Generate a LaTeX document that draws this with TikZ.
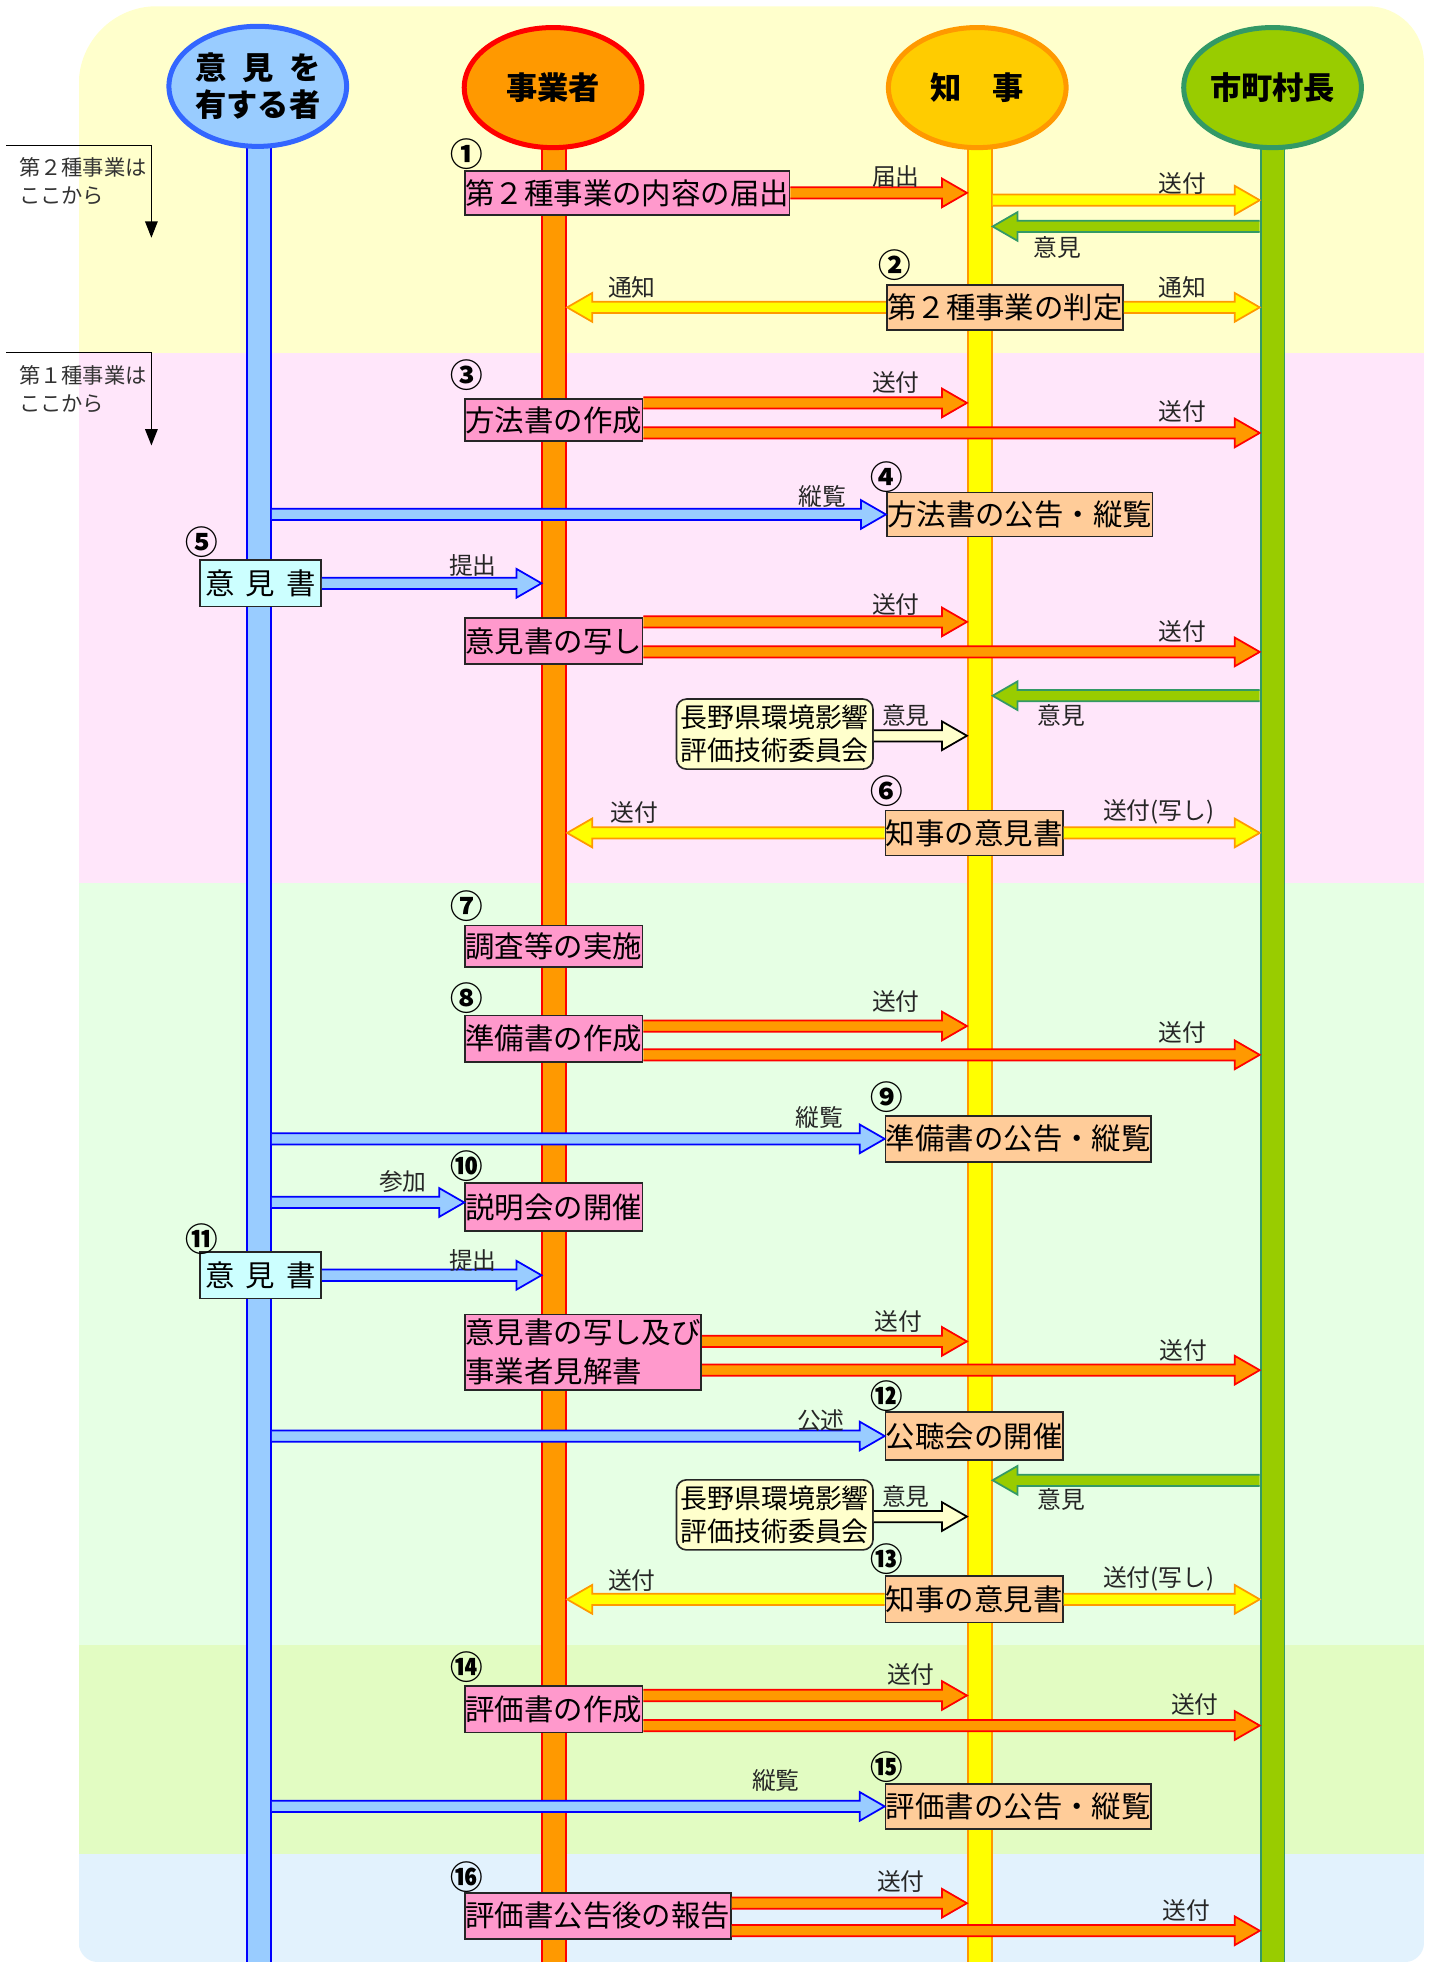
\documentclass[tikz,border=0pt]{standalone}
\usepackage{fontspec}
\newfontfamily\jp{Noto Sans CJK JP}
\usetikzlibrary{calc,shapes.geometric,arrows.meta}
\definecolor{zyellow}{HTML}{FFFFCC}
\definecolor{zpink}{HTML}{FFE6FA}
\definecolor{zgreen}{HTML}{E6FFE4}
\definecolor{zlime}{HTML}{E2FCC2}
\definecolor{zblue}{HTML}{E2F2FD}
\definecolor{cpink}{HTML}{FF99CC}
\definecolor{cpeach}{HTML}{FFCC99}
\definecolor{ccyan}{HTML}{CCFFFF}
\definecolor{ccream}{HTML}{FFFFCC}
\definecolor{lblue}{HTML}{99CCFF}
\definecolor{dblue}{HTML}{0000FF}
\definecolor{eblue}{HTML}{3366FF}
\definecolor{orng}{HTML}{FF9900}
\definecolor{rred}{HTML}{FF0000}
\definecolor{gold}{HTML}{FFCC00}
\definecolor{yell}{HTML}{FFFF00}
\definecolor{lgreen}{HTML}{99CC00}
\definecolor{dgreen}{HTML}{339966}
\newcommand\barrow[3]{%
  \fill[#1,draw=none] let \p1=#2, \p2=#3, \n1={sign(\x2-\x1)} in
    (\x1,\y1+4.5pt) -- (\x2-\n1*20pt,\y1+4.5pt) -- (\x2-\n1*20pt,\y1+11.5pt) -- (\x2,\y1)
    -- (\x2-\n1*20pt,\y1-11.5pt) -- (\x2-\n1*20pt,\y1-4.5pt) -- (\x1,\y1-4.5pt) -- cycle;
  \draw[#1,fill=none,line join=miter] let \p1=#2, \p2=#3, \n1={sign(\x2-\x1)} in
    (\x1,\y1+4.5pt) -- (\x2-\n1*20pt,\y1+4.5pt) -- (\x2-\n1*20pt,\y1+11.5pt) -- (\x2,\y1)
    -- (\x2-\n1*20pt,\y1-11.5pt) -- (\x2-\n1*20pt,\y1-4.5pt) -- (\x1,\y1-4.5pt);
}
\begin{document}
\begin{tikzpicture}[x=1pt,y=-1pt,
  bar/.style={rectangle,anchor=north,minimum width=19,minimum height=1470,line width=1.5pt,inner sep=0},
  head/.style={ellipse,minimum width=142,minimum height=96,line width=4pt,inner sep=0,align=center,
    font=\jp\bfseries\fontsize{25}{30}\selectfont},
  box/.style={draw=black!85,line width=1.3pt,inner xsep=0.4pt,inner ysep=0pt,anchor=north west,
    font=\jp\fontsize{23.5}{31}\selectfont,text=black},
  pbox/.style={box,fill=cpink},
  obox/.style={box,fill=cpeach},
  cbox/.style={box,fill=ccyan,minimum width=97},
  com/.style={draw=black!85,line width=1.3pt,fill=ccream,rounded corners=8pt,align=center,
    font=\jp\fontsize{21.5}{26}\selectfont,inner xsep=2pt,inner ysep=2pt,anchor=north west,minimum height=56},
  lab/.style={font=\jp\fontsize{19}{22}\selectfont,text=black!85,inner sep=0},
  num/.style={font=\jp\bfseries\fontsize{26}{28}\selectfont,inner sep=0},
  anno/.style={font=\jp\fontsize{17}{22}\selectfont,text=black!80,align=left,anchor=north west,inner sep=0},
  arrO/.style={fill=orng,draw=rred,line width=1.4pt},
  arrY/.style={fill=yell,draw=orng,line width=1.4pt},
  arrG/.style={fill=lgreen,draw=dgreen,line width=1.4pt},
  arrB/.style={fill=lblue,draw=dblue,line width=1.4pt},
  arrC/.style={fill=ccream,draw=black,line width=1.4pt}]
\useasboundingbox (0,0) rectangle (1143,1568);
\fill[white] (0,0) rectangle (1143,1568);
\begin{scope}
\clip (63,67) .. controls (63,33) and (91,5) .. (125,5) -- (1093,5) .. controls (1118,5) and (1138,25) .. (1138,50)
  -- (1138,1553) .. controls (1138,1561) and (1131,1568) .. (1123,1568) -- (78,1568)
  .. controls (70,1568) and (63,1561) .. (63,1553) -- cycle;
\fill[zyellow] (63,0) rectangle (1138,282);
\fill[zpink] (63,282) rectangle (1138,706);
\fill[zgreen] (63,706) rectangle (1138,1315);
\fill[zlime] (63,1315) rectangle (1138,1482);
\fill[zblue] (63,1482) rectangle (1138,1570);
\end{scope}
% annotations
\coordinate (n2s) at (5,116); \coordinate (n2c) at (121,116); \coordinate (n2e) at (121,190);
\coordinate (n1s) at (5,282); \coordinate (n1c) at (121,282); \coordinate (n1e) at (121,356);
\draw[line width=1pt,-{Triangle[length=13pt,width=10pt]}] (n2s) -- (n2c) -- (n2e);
\draw[line width=1pt,-{Triangle[length=13pt,width=10pt]}] (n1s) -- (n1c) -- (n1e);
\node[anno] (t2) at (15,126) {第２種事業は\\ここから};
\node[anno] (t1) at (15,292) {第１種事業は\\ここから};
% lifelines
\node[bar,fill=lblue,draw=dblue] (barA) at (207,100) {};
\node[bar,fill=orng,draw=rred] (barJ) at (443,100) {};
\node[bar,fill=yell,draw=orng] (barZ) at (783,100) {};
\node[bar,fill=lgreen,draw=dgreen] (barS) at (1017,100) {};
% boxes
\node[pbox,minimum height=35] (b1) at (371,136) {第２種事業の内容の届出};
\node[obox,minimum height=36] (b2) at (708,227) {第２種事業の判定};
\node[pbox,minimum height=34] (b3) at (371,318) {方法書の作成};
\node[obox,minimum height=35] (b4) at (708,393) {方法書の公告・縦覧};
\node[cbox,minimum height=37] (b5) at (159,447) {意\hspace{9pt}見\hspace{9pt}書};
\node[pbox,minimum height=37] (b6) at (371,493) {意見書の写し};
\node[com,minimum width=157] (c1) at (540,558) {長野県環境影響\\評価技術委員会};
\node[obox,minimum height=36] (b8) at (707,647) {知事の意見書};
\node[pbox,minimum height=33] (b9) at (371,739) {調査等の実施};
\node[pbox,minimum height=37] (b10) at (371,811) {準備書の作成};
\node[obox,minimum height=37] (b11) at (707,891) {準備書の公告・縦覧};
\node[pbox,minimum height=38] (b12) at (371,945) {説明会の開催};
\node[cbox,minimum height=37] (b13) at (159,1000) {意\hspace{9pt}見\hspace{9pt}書};
\node[pbox,minimum height=60,align=left] (b14) at (371,1050) {意見書の写し及び\\事業者見解書};
\node[obox,minimum height=38] (b15) at (707,1128) {公聴会の開催};
\node[com,minimum width=157] (c2) at (540,1182) {長野県環境影響\\評価技術委員会};
\node[obox,minimum height=37] (b17) at (707,1259) {知事の意見書};
\node[pbox,minimum height=37] (b18) at (371,1347) {評価書の作成};
\node[obox,minimum height=36] (b19) at (707,1425) {評価書の公告・縦覧};
\node[pbox,minimum height=37] (b20) at (371,1512) {評価書公告後の報告};
% arrows
\barrow{arrO}{(b1.east)}{(barZ.west |- b1.east)}
\barrow{arrY}{(barZ.east |- 0,160)}{(barS.west |- 0,160)}
\barrow{arrG}{(barS.west |- 0,181)}{(barZ.east |- 0,181)}
\barrow{arrY}{(b2.west)}{(barJ.east |- b2.west)}
\barrow{arrY}{(b2.east)}{(barS.west |- b2.east)}
\barrow{arrO}{(b3.east |- 0,322)}{(barZ.west |- 0,322)}
\barrow{arrO}{(b3.east |- 0,346)}{(barS.west |- 0,346)}
\barrow{arrB}{(barA.east |- b4.west)}{(b4.west)}
\barrow{arrB}{(b5.east)}{(barJ.west |- b5.east)}
\barrow{arrO}{(b6.east |- 0,497)}{(barZ.west |- 0,497)}
\barrow{arrO}{(b6.east |- 0,521)}{(barS.west |- 0,521)}
\barrow{arrG}{(barS.west |- 0,556)}{(barZ.east |- 0,556)}
\barrow{arrC}{(c1.east |- 0,588)}{(barZ.west |- 0,588)}
\barrow{arrY}{(b8.west)}{(barJ.east |- b8.west)}
\barrow{arrY}{(b8.east)}{(barS.west |- b8.east)}
\barrow{arrO}{(b10.east |- 0,820)}{(barZ.west |- 0,820)}
\barrow{arrO}{(b10.east |- 0,843)}{(barS.west |- 0,843)}
\barrow{arrB}{(barA.east |- b11.west)}{(b11.west)}
\barrow{arrB}{(barA.east |- 0,961)}{(b12.west |- 0,961)}
\barrow{arrB}{(b13.east)}{(barJ.west |- b13.east)}
\barrow{arrO}{(b14.east |- 0,1072)}{(barZ.west |- 0,1072)}
\barrow{arrO}{(b14.east |- 0,1095)}{(barS.west |- 0,1095)}
\barrow{arrB}{(barA.east |- b15.west)}{(b15.west)}
\barrow{arrG}{(barS.west |- 0,1183)}{(barZ.east |- 0,1183)}
\barrow{arrC}{(c2.east |- 0,1212)}{(barZ.west |- 0,1212)}
\barrow{arrY}{(b17.west)}{(barJ.east |- b17.west)}
\barrow{arrY}{(b17.east)}{(barS.west |- b17.east)}
\barrow{arrO}{(b18.east |- 0,1355)}{(barZ.west |- 0,1355)}
\barrow{arrO}{(b18.east |- 0,1379)}{(barS.west |- 0,1379)}
\barrow{arrB}{(barA.east |- b19.west)}{(b19.west)}
\barrow{arrO}{(b20.east |- 0,1521)}{(barZ.west |- 0,1521)}
\barrow{arrO}{(b20.east |- 0,1543)}{(barS.west |- 0,1543)}
% labels
\node[lab] (l1) at (716,141) {届出};
\node[lab] (l2) at (945,147) {送付};
\node[lab] (l3) at (845,198) {意見};
\node[lab] (l4) at (505,230) {通知};
\node[lab] (l5) at (945,230) {通知};
\node[lab] (l6) at (716,306) {送付};
\node[lab] (l7) at (945,329) {送付};
\node[lab] (l8) at (657,397) {縦覧};
\node[lab] (l9) at (378,452) {提出};
\node[lab] (l10) at (716,483) {送付};
\node[lab] (l11) at (945,505) {送付};
\node[lab] (l12) at (848,572) {意見};
\node[lab] (l13) at (724,572) {意見};
\node[lab] (l14) at (507,649) {送付};
\node[lab] (l15) at (926,649) {送付(写し)};
\node[lab] (l16) at (716,800) {送付};
\node[lab] (l17) at (945,825) {送付};
\node[lab] (l18) at (655,893) {縦覧};
\node[lab] (l19) at (322,944) {参加};
\node[lab] (l20) at (378,1007) {提出};
\node[lab] (l21) at (718,1056) {送付};
\node[lab] (l22) at (946,1079) {送付};
\node[lab] (l23) at (656,1135) {公述};
\node[lab] (l24) at (848,1198) {意見};
\node[lab] (l25) at (724,1196) {意見};
\node[lab] (l26) at (505,1263) {送付};
\node[lab] (l27) at (926,1262) {送付(写し)};
\node[lab] (l28) at (728,1338) {送付};
\node[lab] (l29) at (955,1362) {送付};
\node[lab] (l30) at (620,1423) {縦覧};
\node[lab] (l31) at (720,1504) {送付};
\node[lab] (l32) at (948,1527) {送付};
% step numbers
\node[num] (n1) at (373,123) {①};
\node[num] (n2) at (715,212) {②};
\node[num] (n3) at (373,300) {③};
\node[num] (n4) at (709,381) {④};
\node[num] (n5) at (161,433) {⑤};
\node[num] (n6) at (709,632) {⑥};
\node[num] (n7) at (373,724) {⑦};
\node[num] (n8) at (373,798) {⑧};
\node[num] (n9) at (709,877) {⑨};
\node[num] (n10) at (373,932) {⑩};
\node[num] (n11) at (161,990) {⑪};
\node[num] (n12) at (709,1116) {⑫};
\node[num] (n13) at (709,1246) {⑬};
\node[num] (n14) at (373,1332) {⑭};
\node[num] (n15) at (709,1412) {⑮};
\node[num] (n16) at (373,1500) {⑯};
% headers
\node[head,fill=lblue,draw=eblue] (hA) at (206,69) {意\hspace{0.5em}見\hspace{0.5em}を\\有する者};
\node[head,fill=orng,draw=rred] (hJ) at (442,70) {事業者};
\node[head,fill=gold,draw=orng] (hZ) at (781,70) {知\hspace{1em}事};
\node[head,fill=lgreen,draw=dgreen] (hS) at (1017,70) {市町村長};
\end{tikzpicture}
\end{document}
